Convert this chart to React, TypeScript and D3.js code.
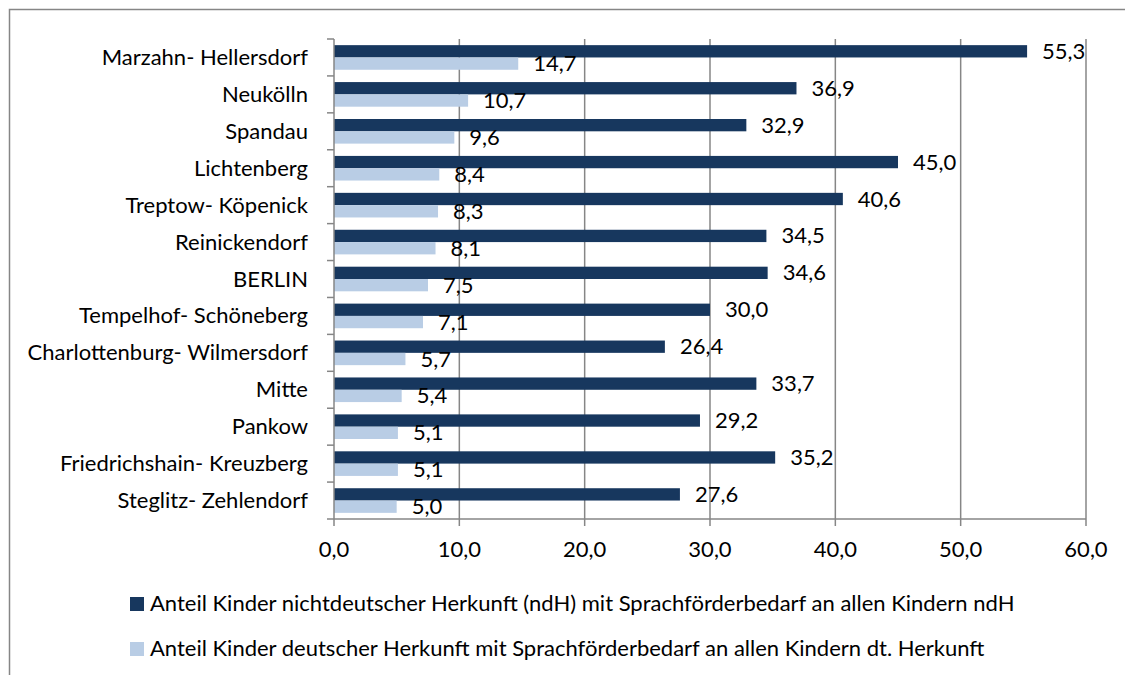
import React from "react";
import * as d3 from "d3";

const categories = [
  "Marzahn- Hellersdorf",
  "Neukölln",
  "Spandau",
  "Lichtenberg",
  "Treptow- Köpenick",
  "Reinickendorf",
  "BERLIN",
  "Tempelhof- Schöneberg",
  "Charlottenburg- Wilmersdorf",
  "Mitte",
  "Pankow",
  "Friedrichshain- Kreuzberg",
  "Steglitz- Zehlendorf",
];
const ndhValues = [55.3, 36.9, 32.9, 45.0, 40.6, 34.5, 34.6, 30.0, 26.4, 33.7, 29.2, 35.2, 27.6];
const dtValues = [14.7, 10.7, 9.6, 8.4, 8.3, 8.1, 7.5, 7.1, 5.7, 5.4, 5.1, 5.1, 5.0];
const xTicks = [0, 10, 20, 30, 40, 50, 60];
const seriesNames = [
  "Anteil Kinder nichtdeutscher Herkunft (ndH) mit Sprachförderbedarf an allen Kindern ndH",
  "Anteil Kinder deutscher Herkunft mit Sprachförderbedarf an allen Kindern dt. Herkunft",
];

const W = 1125;
const H = 675;
const DARK = "#17375E";
const LIGHT = "#B9CDE5";
const GRID = "#868686";
const FONT = "Lato, 'Noto Sans', sans-serif";
const FS = 22;

const fmt = (v: number) => v.toFixed(1).replace(".", ",");

export default function App() {
  const x = d3.scaleLinear().domain([0, 60]).range([334, 1086]);
  const y = d3.scaleBand<string>().domain(categories).range([39, 519]).paddingInner(0).paddingOuter(0);
  const bw = y.bandwidth();
  const barH = bw / 3;
  const [y0, y1] = y.range();

  return (
    <svg width={W} height={H} style={{ position: "absolute", left: 0, top: 0 }} fontFamily={FONT}>
      <rect x={0} y={0} width={W} height={H} fill="#fff" />
      <rect x={9.5} y={9.5} width={W + 20} height={H + 20} fill="none" stroke={GRID} strokeWidth={1.5} />

      {/* gridlines */}
      {xTicks.slice(1).map((t) => (
        <line key={"g" + t} x1={x(t)} x2={x(t)} y1={y0} y2={y1} stroke={GRID} strokeWidth={1.5} />
      ))}

      {/* bars */}
      {categories.map((c, i) => {
        const top = (y(c) as number) + barH / 2;
        return (
          <g key={c}>
            <rect x={x(0)} y={top} width={x(ndhValues[i]) - x(0)} height={barH} fill={DARK} />
            <rect x={x(0)} y={top + barH} width={x(dtValues[i]) - x(0)} height={barH} fill={LIGHT} />
          </g>
        );
      })}

      {/* axes */}
      <line x1={x(0)} x2={x(60)} y1={y1} y2={y1} stroke={GRID} strokeWidth={1.5} />
      <line x1={x(0)} x2={x(0)} y1={y0} y2={y1} stroke={GRID} strokeWidth={1.5} />
      {xTicks.map((t) => (
        <line key={"xt" + t} x1={x(t)} x2={x(t)} y1={y1} y2={y1 + 7} stroke={GRID} strokeWidth={1.5} />
      ))}
      {d3.range(categories.length + 1).map((k) => (
        <line key={"yt" + k} x1={x(0) - 7} x2={x(0)} y1={y0 + k * bw} y2={y0 + k * bw} stroke={GRID} strokeWidth={1.5} />
      ))}

      {/* x tick labels */}
      {xTicks.map((t) => (
        <text key={"xl" + t} x={x(t)} y={557} textAnchor="middle" fontSize={FS} fill="#000">
          {fmt(t)}
        </text>
      ))}

      {/* category labels */}
      {categories.map((c) => (
        <text key={"cl" + c} x={308} y={(y(c) as number) + bw / 2 + 7.5} textAnchor="end" fontSize={FS} fill="#000">
          {c}
        </text>
      ))}

      {/* value labels */}
      {categories.map((c, i) => {
        const top = (y(c) as number) + barH / 2;
        return (
          <g key={"vl" + c}>
            <text x={x(ndhValues[i]) + 15} y={top + barH / 2 + 7.5} fontSize={FS} fill="#000">
              {fmt(ndhValues[i])}
            </text>
            <text x={x(dtValues[i]) + 15} y={top + barH * 1.5 + 7.5} fontSize={FS} fill="#000">
              {fmt(dtValues[i])}
            </text>
          </g>
        );
      })}

      {/* legend */}
      {seriesNames.map((n, i) => (
        <g key={"lg" + i}>
          <rect x={130} y={597 + i * 45} width={14} height={14} fill={i === 0 ? DARK : LIGHT} />
          <text x={150} y={611 + i * 45} fontSize={FS} fill="#000">
            {n}
          </text>
        </g>
      ))}
    </svg>
  );
}
